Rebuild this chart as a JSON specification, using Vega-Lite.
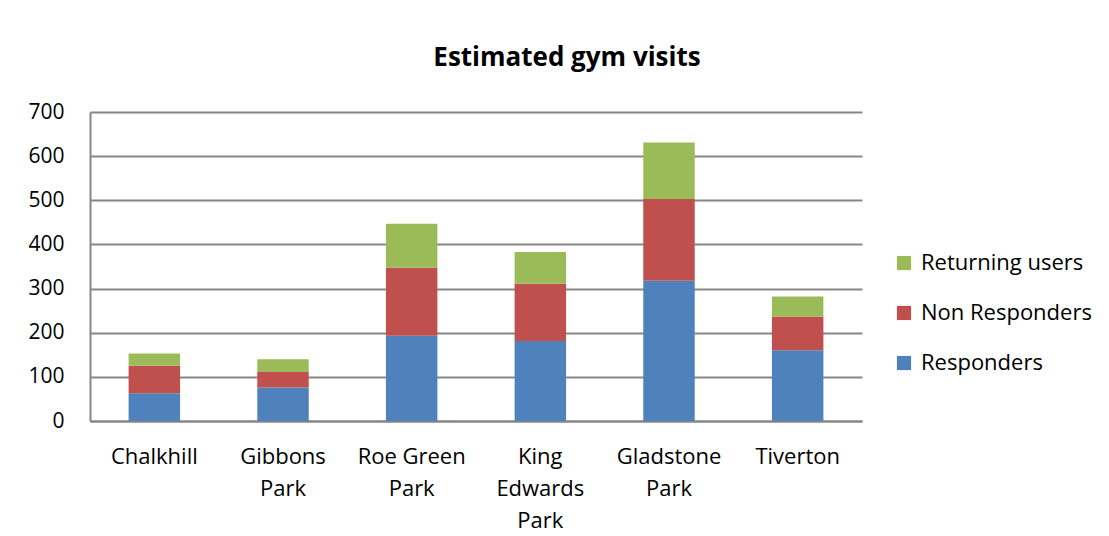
{
  "$schema": "https://vega.github.io/schema/vega-lite/v6.json",
  "width": 772,
  "height": 309,
  "autosize": {"type": "none"},
  "padding": {"left": 90, "top": 112, "right": 247, "bottom": 115},
  "background": "white",
  "title": {
    "text": "Estimated gym visits",
    "font": "Open Sans",
    "fontSize": 26,
    "fontWeight": "bold",
    "color": "black",
    "anchor": "middle",
    "dx": 91,
    "offset": 30
  },
  "data": {
    "values": [
      {"Park": "Chalkhill", "Series": "Responders", "Visits": 63},
      {"Park": "Chalkhill", "Series": "Non Responders", "Visits": 62},
      {"Park": "Chalkhill", "Series": "Returning users", "Visits": 28},
      {"Park": "Gibbons Park", "Series": "Responders", "Visits": 76},
      {"Park": "Gibbons Park", "Series": "Non Responders", "Visits": 35},
      {"Park": "Gibbons Park", "Series": "Returning users", "Visits": 29},
      {"Park": "Roe Green Park", "Series": "Responders", "Visits": 193},
      {"Park": "Roe Green Park", "Series": "Non Responders", "Visits": 154},
      {"Park": "Roe Green Park", "Series": "Returning users", "Visits": 100},
      {"Park": "King Edwards Park", "Series": "Responders", "Visits": 181},
      {"Park": "King Edwards Park", "Series": "Non Responders", "Visits": 130},
      {"Park": "King Edwards Park", "Series": "Returning users", "Visits": 72},
      {"Park": "Gladstone Park", "Series": "Responders", "Visits": 318},
      {"Park": "Gladstone Park", "Series": "Non Responders", "Visits": 185},
      {"Park": "Gladstone Park", "Series": "Returning users", "Visits": 128},
      {"Park": "Tiverton", "Series": "Responders", "Visits": 160},
      {"Park": "Tiverton", "Series": "Non Responders", "Visits": 77},
      {"Park": "Tiverton", "Series": "Returning users", "Visits": 45}
    ]
  },
  "transform": [
    {"calculate": "indexof(['Responders', 'Non Responders', 'Returning users'], datum.Series)", "as": "StackPosition"}
  ],
  "mark": {"type": "bar"},
  "encoding": {
    "x": {
      "field": "Park",
      "type": "nominal",
      "sort": ["Chalkhill", "Gibbons Park", "Roe Green Park", "King Edwards Park", "Gladstone Park", "Tiverton"],
      "scale": {"paddingInner": 0.6, "paddingOuter": 0.3},
      "axis": {
        "title": null,
        "labelAngle": 0,
        "labelFont": "Open Sans",
        "labelFontSize": 22,
        "labelColor": "black",
        "labelPadding": 35,
        "labelLineHeight": 32,
        "labelBaseline": "middle",
        "labelLimit": 200,
        "ticks": false,
        "domainColor": "#868686",
        "domainWidth": 2,
        "labelExpr": "datum.label == 'Roe Green Park' ? ['Roe Green', 'Park'] : datum.label == 'King Edwards Park' ? ['King', 'Edwards', 'Park'] : split(datum.label, ' ')"
      }
    },
    "y": {
      "field": "Visits",
      "type": "quantitative",
      "stack": "zero",
      "scale": {"domain": [0, 700]},
      "axis": {
        "title": null,
        "values": [0, 100, 200, 300, 400, 500, 600, 700],
        "labelFont": "Open Sans",
        "labelFontSize": 21,
        "labelColor": "black",
        "labelPadding": 26,
        "ticks": false,
        "domainColor": "#868686",
        "domainWidth": 2,
        "gridColor": "#868686",
        "gridWidth": 2
      }
    },
    "order": {"field": "StackPosition", "type": "quantitative", "sort": "ascending"},
    "color": {
      "field": "Series",
      "type": "nominal",
      "sort": ["Responders", "Non Responders", "Returning users"],
      "scale": {"range": ["#4F81BD", "#C0504D", "#9BBB59"]},
      "legend": {
        "title": null,
        "values": ["Returning users", "Non Responders", "Responders"],
        "orient": "none",
        "legendX": 803,
        "legendY": 140,
        "symbolType": "square",
        "symbolSize": 200,
        "symbolStrokeWidth": 0,
        "labelFont": "Open Sans",
        "labelFontSize": 22,
        "labelLimit": 300,
        "labelColor": "black",
        "labelOffset": 6,
        "rowPadding": 28
      }
    }
  },
  "config": {
    "view": {"stroke": null}
  }
}
